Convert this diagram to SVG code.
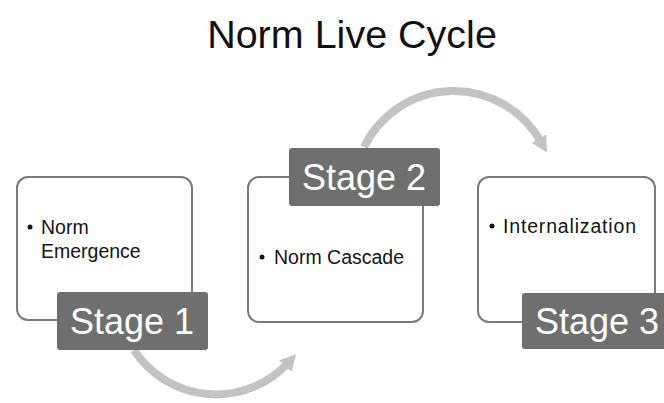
<svg xmlns="http://www.w3.org/2000/svg" width="664" height="403" viewBox="0 0 664 403">
<style>
.box{fill:#ffffff;stroke:#7a7a7a;stroke-width:2}
.lbl{fill:#6f6f6f}
.lt{font-family:"Liberation Sans",Arial,sans-serif;font-size:36px;fill:#ffffff}
.bt{font-family:"Liberation Sans",Arial,sans-serif;font-size:19.5px;fill:#141414}
.arc{fill:none;stroke:#c3c3c3;stroke-width:8}
.title{font-family:"Liberation Sans",Arial,sans-serif;font-size:39.5px;fill:#111111}
</style>
<defs>
<marker id="ah" markerUnits="userSpaceOnUse" markerWidth="20" markerHeight="20" refX="4" refY="10" orient="auto">
<path d="M0,1.5 L16,10 L0,18.5 Z" fill="#c3c3c3"/>
</marker>
</defs>
<rect width="664" height="403" fill="#ffffff"/>
<text class="title" x="352" y="48" text-anchor="middle">Norm Live Cycle</text>
<g id="connectors">
<path class="arc" d="M134,350 A98,98 0 0 0 288,363" marker-end="url(#ah)"/>
<path class="arc" d="M364,147 A100,100 0 0 1 541,142" marker-end="url(#ah)"/>
</g>
<g id="stage1">
<rect class="box" x="17" y="177" width="175" height="143" rx="11"/>
<circle cx="30" cy="227" r="2.5" fill="#141414"/>
<text class="bt" x="41" y="234">Norm</text>
<text class="bt" x="41" y="258">Emergence</text>
<rect class="lbl" x="57" y="292" width="151" height="58" rx="3"/>
<text class="lt" x="132" y="334" text-anchor="middle">Stage 1</text>
</g>
<g id="stage2">
<rect class="box" x="248" y="177" width="175" height="145" rx="11"/>
<circle cx="262" cy="257" r="2.5" fill="#141414"/>
<text class="bt" x="274" y="264">Norm Cascade</text>
<rect class="lbl" x="289" y="148" width="151" height="58" rx="3"/>
<text class="lt" x="364" y="190" text-anchor="middle">Stage 2</text>
</g>
<g id="stage3">
<rect class="box" x="478" y="177" width="177" height="145" rx="11"/>
<circle cx="492" cy="226" r="2.5" fill="#141414"/>
<text class="bt" x="503" y="233" textLength="133" lengthAdjust="spacing">Internalization</text>
<rect class="lbl" x="522" y="293" width="151" height="56" rx="3"/>
<text class="lt" x="597" y="334" text-anchor="middle">Stage 3</text>
</g>
</svg>
